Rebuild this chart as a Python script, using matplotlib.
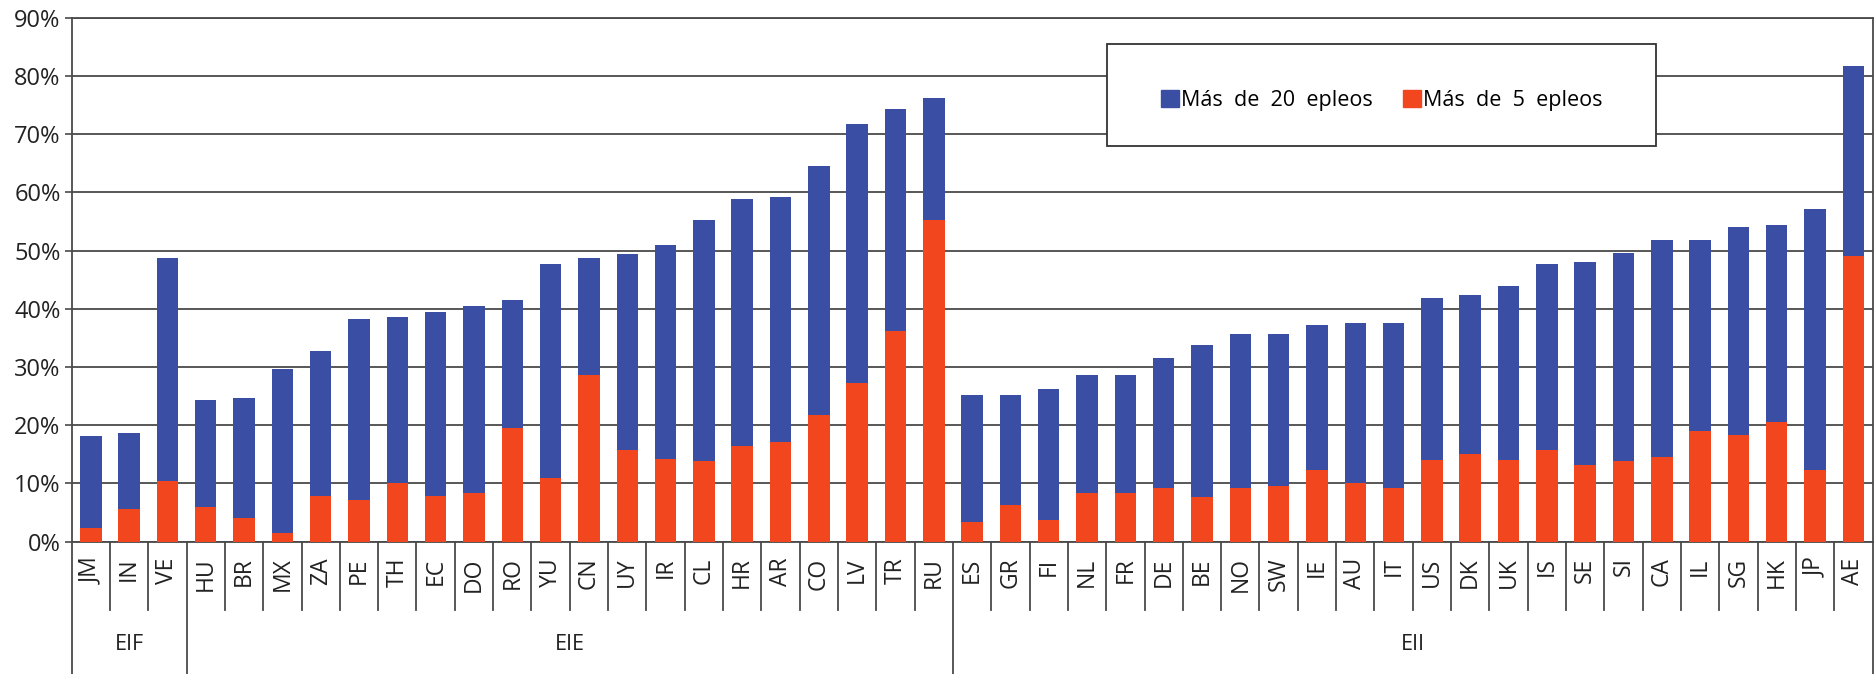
import numpy as np
import matplotlib
matplotlib.use('Agg')
import matplotlib.pyplot as plt
from matplotlib.patches import Rectangle, Patch

plt.rcParams['font.family'] = ['Open Sans', 'DejaVu Sans']

# ---- data -------------------------------------------------------------------------
countries = ['JM', 'IN', 'VE',
             'HU', 'BR', 'MX', 'ZA', 'PE', 'TH', 'EC', 'DO', 'RO', 'YU', 'CN', 'UY',
             'IR', 'CL', 'HR', 'AR', 'CO', 'LV', 'TR', 'RU',
             'ES', 'GR', 'FI', 'NL', 'FR', 'DE', 'BE', 'NO', 'SW', 'IE', 'AU', 'IT',
             'US', 'DK', 'UK', 'IS', 'SE', 'SI', 'CA', 'IL', 'SG', 'HK', 'JP', 'AE']
mas20 = [18.2, 18.7, 48.7,
         24.3, 24.7, 29.7, 32.7, 38.3, 38.6, 39.5, 40.5, 41.5, 47.7, 48.7, 49.5,
         51.0, 55.2, 58.8, 59.2, 64.6, 71.7, 74.4, 76.2,
         25.2, 25.2, 26.3, 28.6, 28.6, 31.5, 33.8, 35.7, 35.7, 37.2, 37.5, 37.5,
         41.9, 42.4, 43.9, 47.7, 48.0, 49.6, 51.8, 51.8, 54.1, 54.4, 57.2, 81.8]
mas5 = [2.3, 5.6, 10.4,
        6.0, 4.0, 1.5, 7.8, 7.1, 10.1, 7.8, 8.3, 19.5, 10.9, 28.7, 15.8,
        14.2, 13.8, 16.5, 17.2, 21.7, 27.2, 36.2, 55.3,
        3.3, 6.3, 3.7, 8.3, 8.3, 9.3, 7.7, 9.3, 9.6, 12.4, 10.0, 9.3,
        14.1, 15.0, 14.1, 15.7, 13.1, 13.8, 14.6, 19.0, 18.3, 20.6, 12.4, 49.1]
groups = ['EIF', 'EIE', 'EII']
group_sizes = [3, 20, 24]
series_names = ['Más  de  20  epleos', 'Más  de  5  epleos']

BLUE, RED = '#3a4fa4', '#f2461f'
GRID = '#4a4a4a'

x = np.arange(len(countries))
fig = plt.figure(figsize=(18.75, 6.74), dpi=100)
ax = fig.add_axes([0.0382, 0.1963, 0.9605, 0.7772])

ax.bar(x, mas20, width=0.56, color=BLUE, zorder=3)
ax.bar(x, mas5, width=0.56, color=RED, zorder=4)

ax.set_xlim(-0.5, len(countries) - 0.5)
ax.set_ylim(0, 90)
ax.set_yticks(np.arange(0, 91, 10))
ax.set_yticklabels([f'{v}%' for v in range(0, 91, 10)], fontsize=17, color='#222222')
ax.tick_params(axis='y', length=5, width=1.2, color=GRID, pad=3)
ax.set_xticks([])
ax.yaxis.grid(True, color=GRID, lw=1.3, zorder=0)
for side in ['top', 'bottom', 'left', 'right']:
    ax.spines[side].set_color(GRID)
    ax.spines[side].set_linewidth(1.3)

# ---- category / group table under the axis ----------------------------------------
tr = ax.get_xaxis_transform()
bounds = np.cumsum([0] + group_sizes) - 0.5
for b in np.arange(-0.5, len(countries), 1.0):
    low = -0.26 if b in bounds else -0.13
    ax.plot([b, b], [0, low], transform=tr, color=GRID, lw=1.3, clip_on=False)
for xi, c in zip(x, countries):
    ax.text(xi, -0.03, c, transform=tr, rotation=90, ha='center', va='top',
            fontsize=16.5, color='#222222')
for g, lo, hi in zip(groups, bounds[:-1], bounds[1:]):
    ax.text((lo + hi) / 2, -0.197, g, transform=tr, ha='center', va='center',
            fontsize=15.5, color='#222222')

# ---- legend box -------------------------------------------------------------------
box = Rectangle((0.575, 0.755), 0.305, 0.195, transform=ax.transAxes,
                fc='white', ec='#333333', lw=1.3, zorder=5)
ax.add_patch(box)
handles = [Patch(color=BLUE), Patch(color=RED)]
leg = ax.legend(handles, series_names, loc='center', ncol=2,
                bbox_to_anchor=(0.575 + 0.305 / 2, 0.755 + 0.195 / 2 - 0.01),
                frameon=False, fontsize=15.5, handlelength=0.85, handleheight=0.85,
                handletextpad=0.1, columnspacing=1.4)
leg.set_zorder(6)

fig.savefig('out.png', dpi=100)
